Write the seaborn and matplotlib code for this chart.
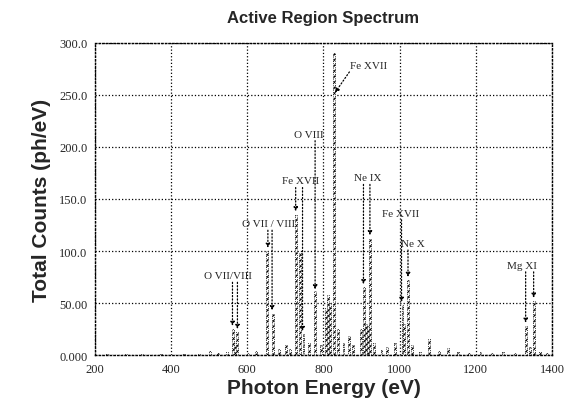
import seaborn as sns
import matplotlib
matplotlib.use("Agg")
import matplotlib.pyplot as plt

# Datos del espectro (energia en eV, cuentas en ph/eV)
energias = [230, 280, 320, 370, 430, 470, 500, 520, 545,
            561, 569, 574, 600, 620,
            654, 665, 680, 700, 710,
            727, 739, 745, 760, 775, 790,
            805, 812, 818, 826, 835, 850, 865, 875,
            895, 905, 910, 915, 922, 930, 950, 965, 985,
            1005, 1010, 1022, 1030, 1050, 1075, 1100, 1125, 1150,
            1180, 1210, 1240, 1270, 1300, 1331, 1340, 1352, 1365, 1385]
cuentas = [1, 1.5, 1, 1, 1, 1.5, 4, 2, 3,
           25, 12, 22, 2, 4,
           100, 40, 6, 10, 6,
           135, 98, 20, 12, 62, 10,
           45, 58, 50, 290, 25, 12, 18, 10,
           25, 65, 30, 28, 112, 12, 5, 8, 12,
           48, 30, 72, 10, 3, 16, 4, 7, 3,
           2, 3, 2, 3, 2, 28, 8, 52, 3, 2]

# Etiquetas de lineas
etiquetas = ["O VII/VIII", "O VII / VIII", "Fe XVII", "O VIII",
             "Ne IX", "Fe XVII", "Ne X", "Mg XI"]
etiq_x = [548, 655, 740, 762, 917, 1003, 1035, 1320]
etiq_y = [72, 122, 163, 208, 166, 132, 103, 82]
etiq_lineas = [[561, 574], [654, 665], [727, 745], [778],
               [905, 922], [1005], [1022], [1331, 1352]]

x_ticks = [200, 400, 600, 800, 1000, 1200, 1400]
y_ticks = [0, 50, 100, 150, 200, 250, 300]
y_labels = ["0.000", "50.00", "100.0", "150.0", "200.0", "250.0", "300.0"]

sns.set_style("white")
plt.rcParams['font.family'] = ['Liberation Sans', 'DejaVu Sans']

fig = plt.figure(figsize=(5.69, 4.02), dpi=100)
ax = fig.add_axes([0.167, 0.114, 0.803, 0.777])

sns.histplot(x=energias, weights=cuentas, binwidth=5, binrange=(200, 1400),
             color="white", edgecolor="black", hatch="//////",
             linewidth=0.6, linestyle=":", alpha=1, ax=ax)

ax.set_xlim(200, 1400)
ax.set_ylim(0, 300)
ax.set_xticks(x_ticks)
ax.set_xticklabels([str(t) for t in x_ticks], family="Liberation Serif", fontsize=9)
ax.set_yticks(y_ticks)
ax.set_yticklabels(y_labels, family="Liberation Serif", fontsize=9)
ax.tick_params(length=2, color="black")
ax.grid(True, linestyle=":", color="black", linewidth=0.9)
ax.set_axisbelow(True)
for s in ax.spines.values():
    s.set_linestyle(":")
    s.set_color("black")
    s.set_linewidth(1.0)

ax.set_title("Active Region Spectrum", fontsize=12, fontweight="bold", pad=15)
ax.set_xlabel("Photon Energy (eV)", fontsize=15, fontweight="bold", labelpad=2)
ax.set_ylabel("Total Counts (ph/eV)", fontsize=15, fontweight="bold", labelpad=6)

altura = dict(zip(energias, cuentas))
flecha = dict(arrowstyle="-|>", linestyle=":", color="black", lw=0.9,
              mutation_scale=6, shrinkA=0, shrinkB=0)

# Etiquetas con lineas guia verticales
for txt, tx, ty, lineas in zip(etiquetas, etiq_x, etiq_y, etiq_lineas):
    ax.text(tx, ty, txt, ha="center", va="bottom", fontsize=8,
            family="Liberation Serif")
    for e in lineas:
        h = altura.get(e, 60)
        ax.annotate("", xy=(e, h + 3), xytext=(e, ty - 2), arrowprops=flecha)

# Fe XVII principal con flecha diagonal
ax.text(870, 278, "Fe XVII", ha="left", va="center", fontsize=8,
        family="Liberation Serif")
ax.annotate("", xy=(830, 252), xytext=(868, 272), arrowprops=flecha)

fig.savefig("out.png", dpi=100)
